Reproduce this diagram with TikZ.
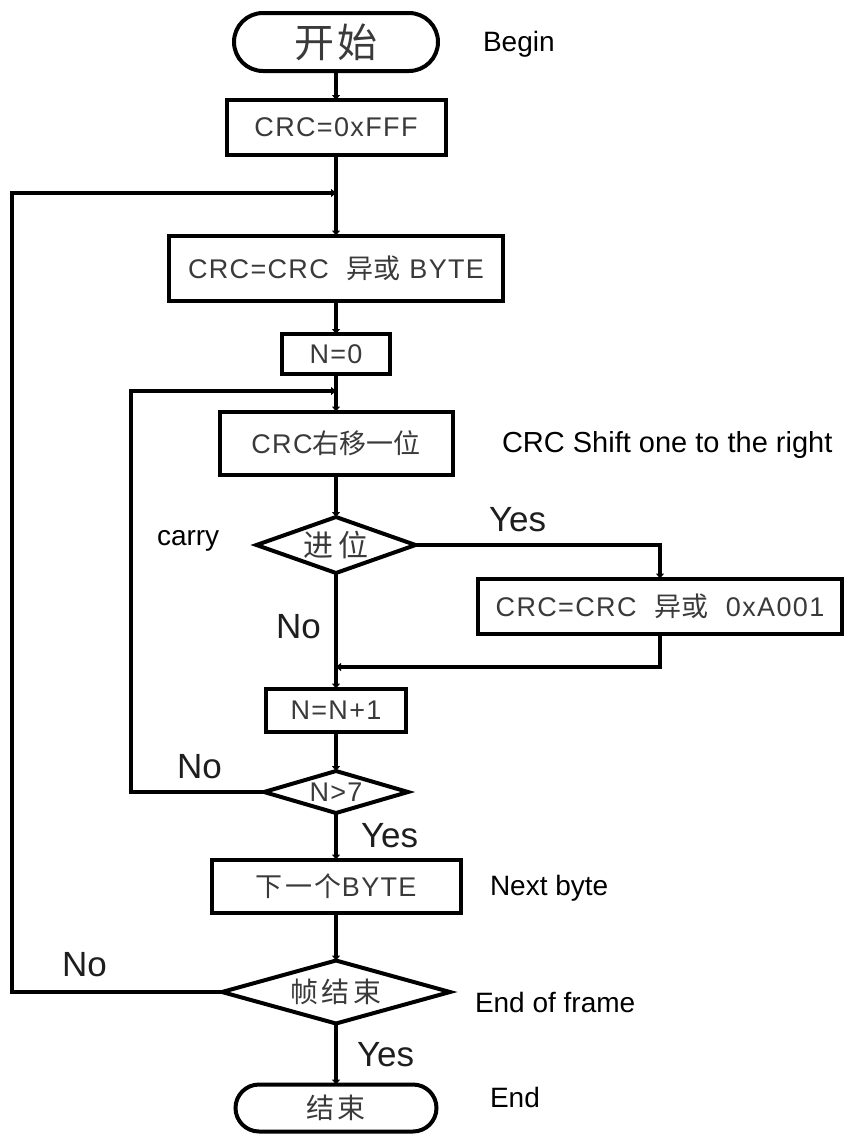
\documentclass[tikz,border=0pt]{standalone}
\usepackage{fontspec}
\setmainfont{Liberation Sans}
\newfontfamily\cjk{Noto Sans CJK SC}
\usetikzlibrary{arrows.meta,shapes.geometric,shapes.misc}
\definecolor{boxtext}{HTML}{3A3A3A}
\definecolor{labtext}{HTML}{1E1E1E}
\newcommand{\bfnt}{\fontsize{27}{30}\selectfont\addfontfeature{LetterSpace=5}}
\newcommand{\cfnt}{\fontsize{27}{30}\selectfont\cjk}
\begin{document}
\begin{tikzpicture}[x=1pt,y=-1pt,
  every node/.style={inner sep=0pt,outer sep=0pt},
  proc/.style={draw=black,line width=4pt,rectangle,text=boxtext,font=\bfnt,align=center},
  term/.style={draw=black,line width=4pt,rounded rectangle,text=boxtext},
  dec/.style={draw=black,line width=4pt,diamond,text=boxtext},
  conn/.style={line width=4pt,-{Triangle[length=5pt,width=8pt]}},
  lab/.style={anchor=west,text=labtext,font=\fontsize{35}{38}\selectfont},
  eng/.style={anchor=west,text=black,font=\fontsize{28}{32}\selectfont}
]
\useasboundingbox (0,0) rectangle (845,1135);
\fill[white] (0,0) rectangle (845,1135);

% nodes
\node[term,minimum width=204pt,minimum height=58pt,font=\fontsize{40}{42}\selectfont\cjk\addfontfeature{LetterSpace=8}] (start) at (336,42) {开始};
\node[proc,minimum width=219pt,minimum height=55pt] (fff) at (336,127.5) {CRC=0xFFF};
\node[proc,minimum width=334pt,minimum height=65pt] (byte) at (336,268) {CRC=CRC\ \ {\cfnt 异或} BYTE};
\node[proc,minimum width=108pt,minimum height=40pt] (n0) at (336,354) {N=0};
\node[proc,minimum width=233pt,minimum height=63pt] (shift) at (336,443) {CRC{\cfnt 右移一位}};
\node[dec,minimum width=159pt,minimum height=56pt,aspect=2.84,font=\fontsize{30}{32}\selectfont\cjk\addfontfeature{LetterSpace=18}] (carry) at (336,545) {进位};
\node[proc,minimum width=364pt,minimum height=55pt] (a001) at (660,606) {CRC=CRC\ \ {\cfnt 异或}\ \ 0xA001};
\node[proc,minimum width=140pt,minimum height=43pt] (nn1) at (336,710) {N=N+1};
\node[dec,minimum width=144pt,minimum height=42pt,aspect=3.4,font=\bfnt] (n7) at (336,792) {N>7};
\node[proc,minimum width=249pt,minimum height=53pt] (next) at (336,886) {{\cfnt\addfontfeature{LetterSpace=10}下一个}BYTE};
\node[dec,minimum width=228pt,minimum height=63pt,aspect=3.6,font=\fontsize{28}{30}\selectfont\cjk\addfontfeature{LetterSpace=14}] (frame) at (336,992) {帧结束};
\node[term,minimum width=201pt,minimum height=47pt,font=\fontsize{28}{30}\selectfont\cjk\addfontfeature{LetterSpace=14}] (end) at (336,1108) {结束};

% junction coordinates
\coordinate (j1) at (336,193);
\coordinate (L1) at (12,193);
\coordinate (j2) at (336,391);
\coordinate (L2) at (131,391);
\coordinate (j3) at (336,667);

% connectors
\draw[conn] (start) -- (fff);
\draw[conn] (fff) -- (byte);
\draw[conn] (frame.west) -| (L1) -- (j1);
\draw[conn] (byte) -- (n0);
\draw[conn] (n0) -- (shift);
\draw[conn] (n7.west) -| (L2) -- (j2);
\draw[conn] (shift) -- (carry);
\draw[conn] (carry.east) -| (a001.north);
\draw[conn] (a001.south) |- (j3);
\draw[conn] (carry) -- (nn1);
\draw[conn] (nn1) -- (n7);
\draw[conn] (n7) -- (next);
\draw[conn] (next) -- (frame);
\draw[conn] (frame) -- (end);

% labels
\node[eng] (tbegin) at (483,44) {Begin};
\node[eng,font=\fontsize{29}{32}\selectfont] (tshift) at (502,445) {CRC Shift one to the right};
\node[eng] (tcarry) at (157,541) {carry};
\node[lab] (y1) at (489,520) {Yes};
\node[lab] (no1) at (276,627) {No};
\node[lab] (no2) at (177,767) {No};
\node[lab] (y2) at (361,836) {Yes};
\node[eng] (tnext) at (490,888) {Next byte};
\node[lab] (no3) at (62,965) {No};
\node[eng] (tframe) at (475,1002) {End of frame};
\node[lab] (y3) at (357,1055) {Yes};
\node[eng] (tend) at (490,1097) {End};
\end{tikzpicture}
\end{document}
